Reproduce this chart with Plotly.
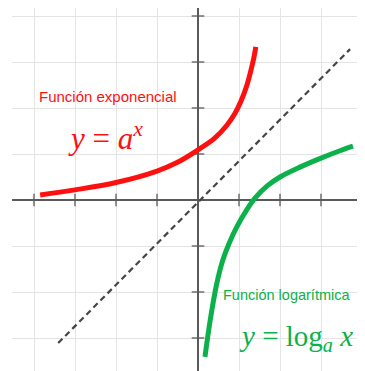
import plotly.graph_objects as go

# Exponential curve (grid units)
exp_x = [-3.85, -3.0, -2.0, -1.0, -0.5, 0.0, 0.4, 0.7, 0.9, 1.05, 1.18, 1.28, 1.36, 1.41]
exp_y = [0.11, 0.22, 0.38, 0.63, 0.82, 1.09, 1.34, 1.62, 1.88, 2.15, 2.46, 2.78, 3.08, 3.33]

# Logarithmic curve
log_x = [0.17, 0.30, 0.45, 0.60, 0.75, 0.95, 1.20, 1.40, 1.68, 2.0, 2.5, 3.0, 3.46, 3.78]
log_y = [-3.41, -2.60, -1.85, -1.32, -0.96, -0.58, -0.20, 0.05, 0.30, 0.50, 0.72, 0.91, 1.07, 1.17]

# Identity (dashed) line
diag_x = [-3.41, 3.71]
diag_y = [-3.11, 3.28]

# Axis tick positions
x_ticks = [-4, -3, -2, -1, 1, 2, 3, 4]
y_ticks = [-3, -2, -1, 1, 2, 3, 4]

RED = "#ff1010"
GREEN = "#0db14b"
AXIS = "#5a5a5a"

fig = go.Figure()

# axis tick marks
fig.add_trace(go.Scatter(x=x_ticks, y=[0] * len(x_ticks), mode="markers",
                         marker=dict(symbol="line-ns-open", size=9, color=AXIS,
                                     line=dict(color=AXIS, width=1.3)),
                         hoverinfo="skip", showlegend=False))
fig.add_trace(go.Scatter(x=[0] * len(y_ticks), y=y_ticks, mode="markers",
                         marker=dict(symbol="line-ew-open", size=9, color=AXIS,
                                     line=dict(color=AXIS, width=1.3)),
                         hoverinfo="skip", showlegend=False))

fig.add_trace(go.Scatter(x=diag_x, y=diag_y, mode="lines",
                         line=dict(color="#454545", width=2.2, dash="6px,4px"),
                         hoverinfo="skip", showlegend=False))
fig.add_trace(go.Scatter(x=exp_x, y=exp_y, mode="lines",
                         line=dict(color=RED, width=5, shape="spline", smoothing=1),
                         hoverinfo="skip", showlegend=False))
fig.add_trace(go.Scatter(x=log_x, y=log_y, mode="lines",
                         line=dict(color=GREEN, width=5, shape="spline", smoothing=1),
                         hoverinfo="skip", showlegend=False))

fig.add_annotation(x=-3.92, y=2.26, xanchor="left", yanchor="middle",
                   text="Función exponencial", showarrow=False,
                   font=dict(family="Liberation Sans, Arial", size=15, color=RED))
fig.add_annotation(x=-3.22, y=1.38, xanchor="left", yanchor="middle",
                   text="<i>y</i> = <i>a</i><sup><i>x</i></sup>", showarrow=False,
                   font=dict(family="Liberation Serif, DejaVu Serif, serif", size=31, color=RED))
fig.add_annotation(x=0.56, y=-2.07, xanchor="left", yanchor="middle",
                   text="Función logarítmica", showarrow=False,
                   font=dict(family="Liberation Sans, Arial", size=14.5, color=GREEN))
fig.add_annotation(x=0.95, y=-3.0, xanchor="left", yanchor="middle",
                   text="<i>y</i> = log<sub><i>a</i></sub> <i>x</i>", showarrow=False,
                   font=dict(family="Liberation Serif, DejaVu Serif, serif", size=29, color=GREEN))

# The page body adds an 8px offset; compensate in margins/size.
fig.update_layout(
    width=357, height=363,
    margin=dict(l=4, r=0, t=0, b=0),
    paper_bgcolor="white", plot_bgcolor="white",
    showlegend=False,
    xaxis=dict(range=[-186 / 41, 167 / 41], dtick=1, tick0=0,
               showgrid=True, gridcolor="#e4e4e4", gridwidth=1,
               zeroline=True, zerolinecolor=AXIS, zerolinewidth=1.5,
               showticklabels=False, ticks="", fixedrange=True),
    yaxis=dict(range=[-171 / 46, 192 / 46], dtick=1, tick0=0,
               showgrid=True, gridcolor="#e4e4e4", gridwidth=1,
               zeroline=True, zerolinecolor=AXIS, zerolinewidth=1.5,
               showticklabels=False, ticks="", fixedrange=True),
    hovermode=False,
)

fig.write_html("out.html", config={"displayModeBar": False})
